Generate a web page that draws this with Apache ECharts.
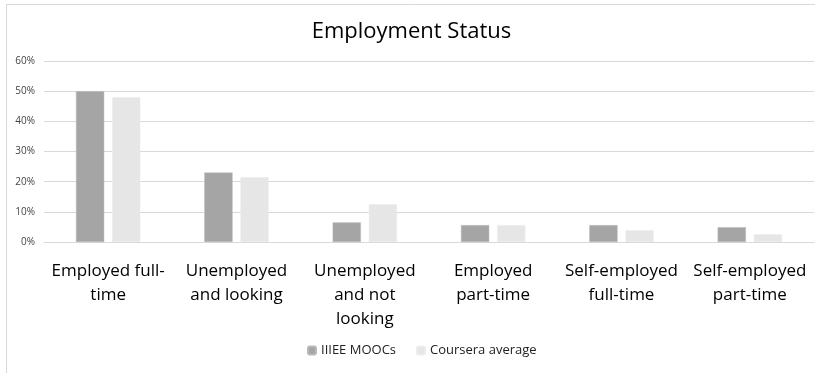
<!DOCTYPE html>
<html><head><meta charset="utf-8">
<script src="https://cdn.jsdelivr.net/npm/echarts@6/dist/echarts.min.js"></script>
<style>html,body{margin:0;padding:0;background:#fff}#c{width:823px;height:373px}</style>
</head><body><div id="c"></div>
<script>
const categories = ["Employed full-\ntime", "Unemployed\nand looking", "Unemployed\nand not\nlooking", "Employed\npart-time", "Self-employed\nfull-time", "Self-employed\npart-time"];
const seriesNames = ["IIIEE MOOCs", "Coursera average"];
const iiieeValues = [0.50, 0.23, 0.065, 0.056, 0.056, 0.049];
const courseraValues = [0.48, 0.215, 0.125, 0.056, 0.039, 0.026];
const yTicks = [0, 0.1, 0.2, 0.3, 0.4, 0.5, 0.6];

const F = 'Open Sans';
const chart = echarts.init(document.getElementById('c'));
chart.setOption({
  animation: false,
  title: { text: 'Employment Status', left: 'center', top: 16, textStyle: { fontFamily: F, fontSize: 22, fontWeight: 'normal', color: '#000' } },
  graphic: [
    { type: 'line', shape: { x1: 6, y1: 4.5, x2: 815, y2: 4.5 }, style: { stroke: '#d9d9d9', lineWidth: 1 } },
    { type: 'line', shape: { x1: 6.5, y1: 4, x2: 6.5, y2: 373 }, style: { stroke: '#d9d9d9', lineWidth: 1 } }
  ],
  legend: {
    bottom: 11, left: 302, itemWidth: 8, itemHeight: 8, itemGap: 20,
    textStyle: { fontFamily: F, fontSize: 13, color: '#222' },
    data: seriesNames
  },
  grid: { left: 44, right: 9, top: 61, bottom: 131 },
  xAxis: {
    type: 'category', data: categories,
    axisLine: { show: true, lineStyle: { color: '#d9d9d9' } },
    axisTick: { show: false },
    axisLabel: { interval: 0, color: '#000', fontFamily: F, fontSize: 17, lineHeight: 24, margin: 17 }
  },
  yAxis: {
    type: 'value', min: 0, max: 0.6, interval: 0.1,
    axisLine: { show: false }, axisTick: { show: false },
    splitLine: { lineStyle: { color: '#d9d9d9' } },
    axisLabel: { color: '#444', fontFamily: F, fontSize: 10, margin: 9, formatter: v => Math.round(v * 100) + '%' }
  },
  series: [
    { name: seriesNames[0], type: 'bar', data: iiieeValues, barWidth: '22%', barGap: '28%', itemStyle: { color: '#a5a5a5', borderColor: '#b8b8b8', borderWidth: 0.5 } },
    { name: seriesNames[1], type: 'bar', data: courseraValues, barWidth: '22%', itemStyle: { color: '#e6e6e6', borderColor: '#ececec', borderWidth: 0.5 } }
  ]
});
</script></body></html>
